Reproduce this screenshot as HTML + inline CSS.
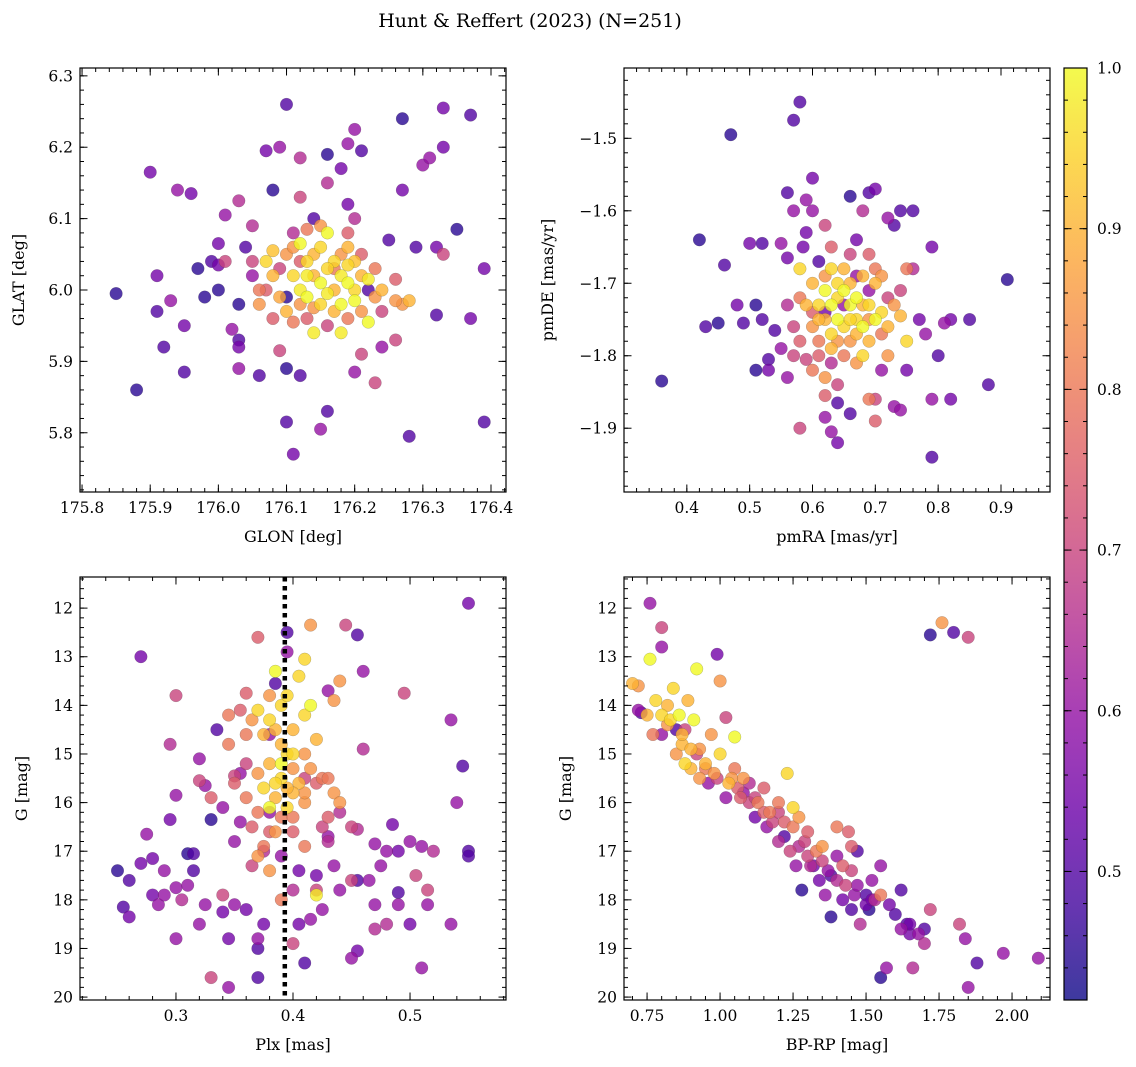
<!DOCTYPE html>
<html><head><meta charset="utf-8"><style>
html,body{margin:0;padding:0;background:#fff;}
svg{display:block;font-family:"DejaVu Serif","Liberation Serif",serif;}
</style></head><body>
<svg id="fig" width="1136" height="1067" viewBox="0 0 1136 1067" xmlns="http://www.w3.org/2000/svg">
<text x="530" y="27" text-anchor="middle" font-size="19">Hunt &amp; Reffert (2023) (N=251)</text>
</svg>
<script>
// ---- Panel 1: GLON / GLAT ----
const glon=[175.85,175.88,175.90,175.91,175.91,175.92,175.93,175.94,175.95,175.95,175.96,175.97,175.98,175.99,176.0,176.0,176.0,176.01,176.01,176.02,176.03,176.03,176.03,176.03,176.03,176.04,176.05,176.05,176.06,176.06,176.07,176.08,176.08,176.09,176.09,176.10,176.10,176.10,176.10,176.11,176.12,176.12,176.12,176.14,176.15,176.16,176.16,176.16,176.18,176.19,176.19,176.20,176.21,176.2,176.21,176.22,176.23,176.24,176.25,176.26,176.27,176.27,176.28,176.29,176.30,176.31,176.32,176.32,176.33,176.33,176.33,176.35,176.37,176.37,176.39,176.39,176.27,176.26,176.28,176.26,
176.08,176.07,176.08,176.1,176.11,176.12,176.13,176.12,176.13,176.14,176.15,176.15,176.16,176.16,176.17,176.17,176.18,176.18,176.19,176.19,176.2,176.2,176.21,176.21,176.22,176.22,176.23,176.24,176.14,176.18,176.1,176.09,176.06,176.11,176.13,176.16,176.15,176.13,176.19,176.2,176.17,176.12,176.05,176.14,176.2,176.23,
176.09,176.11,176.14,176.16,176.18,176.17,176.15,176.12,176.19,176.21,176.24,176.07,176.13,176.19,176.11];
const glat=[5.995,5.86,6.165,6.02,5.97,5.92,5.985,6.14,5.95,5.885,6.135,6.03,5.99,6.04,6.0,6.065,6.035,6.105,6.04,5.945,5.93,5.92,5.98,5.89,6.125,6.06,6.04,6.09,5.88,6.0,6.195,6.14,5.96,6.2,5.915,5.99,5.89,5.815,6.26,5.77,5.88,6.185,6.13,6.1,5.805,6.19,6.15,5.83,6.17,6.12,6.205,6.225,6.195,5.885,5.91,6.0,5.87,5.92,6.07,5.93,6.24,6.14,5.795,6.06,6.175,6.185,6.06,5.965,6.2,6.255,6.05,6.085,6.245,5.96,6.03,5.815,5.98,5.985,5.985,6.015,
6.055,6.04,6.02,6.05,6.02,6.0,5.99,6.065,6.04,6.02,6.06,6.01,5.995,6.08,6.04,6.0,5.98,6.02,6.01,6.06,6.0,5.985,6.02,5.97,6.015,5.955,5.99,6.0,5.94,5.94,5.97,5.99,5.98,5.955,5.96,5.95,6.09,6.085,6.08,6.1,6.03,6.04,6.02,5.975,6.04,6.03,
6.03,6.06,6.05,6.03,6.05,5.97,5.98,5.98,5.96,6.05,5.97,6.0,6.02,6.035,6.08];
const prob1=[0.45,0.45,0.55,0.55,0.5,0.5,0.6,0.6,0.55,0.5,0.55,0.45,0.45,0.5,0.45,0.55,0.55,0.6,0.7,0.6,0.5,0.55,0.45,0.6,0.65,0.5,0.7,0.65,0.5,0.8,0.55,0.45,0.75,0.6,0.7,0.45,0.45,0.5,0.5,0.55,0.5,0.65,0.7,0.5,0.6,0.45,0.65,0.5,0.55,0.55,0.6,0.6,0.5,0.6,0.7,0.5,0.7,0.6,0.5,0.7,0.45,0.55,0.5,0.5,0.6,0.6,0.55,0.5,0.55,0.55,0.7,0.45,0.5,0.55,0.55,0.5,0.85,0.85,0.9,0.75,
0.92,0.95,0.9,0.85,0.95,0.98,1.0,1.0,0.95,0.9,0.95,1.0,0.98,1.0,0.95,0.9,1.0,0.98,1.0,0.9,0.95,1.0,0.9,0.85,0.98,1.0,0.85,0.9,0.98,0.98,0.9,0.88,0.85,0.8,0.75,0.7,0.85,0.8,0.75,0.65,0.8,0.75,0.6,0.85,0.92,0.8,
0.7,0.85,0.9,0.95,0.85,0.9,0.95,0.85,0.8,0.75,0.7,0.75,0.98,0.95,0.65];
// ---- Panel 2: pmRA / pmDE ----
const pmra=[0.36,0.42,0.43,0.46,0.45,0.47,0.48,0.49,0.50,0.51,0.51,0.52,0.52,0.53,0.53,0.54,0.55,0.55,0.56,0.56,0.56,0.57,0.57,0.58,0.58,0.585,0.59,0.6,0.59,0.6,0.61,0.62,0.62,0.62,0.63,0.64,0.64,0.66,0.66,0.67,0.68,0.69,0.7,0.7,0.7,0.69,0.71,0.72,0.73,0.74,0.74,0.73,0.75,0.76,0.77,0.78,0.79,0.79,0.79,0.8,0.81,0.82,0.82,0.85,0.88,0.91,0.75,0.76,0.72,0.74,0.75,
0.58,0.59,0.6,0.6,0.61,0.61,0.62,0.62,0.63,0.63,0.63,0.64,0.64,0.64,0.65,0.65,0.66,0.66,0.66,0.67,0.67,0.68,0.68,0.68,0.69,0.69,0.7,0.7,0.71,0.71,0.72,0.72,0.6,0.62,0.65,0.67,0.58,0.57,0.56,0.58,0.63,0.66,0.69,0.7,0.64,0.59,0.61,0.73,0.67,0.65,0.62,0.69,
0.61,0.63,0.65,0.67,0.69,0.66,0.64,0.62,0.68,0.71,0.6,0.57,0.74,0.63];
const pmde=[-1.835,-1.64,-1.76,-1.675,-1.755,-1.495,-1.73,-1.755,-1.645,-1.82,-1.73,-1.75,-1.645,-1.805,-1.82,-1.765,-1.645,-1.79,-1.575,-1.665,-1.83,-1.6,-1.475,-1.45,-1.9,-1.65,-1.585,-1.555,-1.63,-1.6,-1.67,-1.62,-1.885,-1.855,-1.905,-1.92,-1.865,-1.88,-1.58,-1.64,-1.6,-1.86,-1.89,-1.57,-1.86,-1.575,-1.82,-1.61,-1.87,-1.875,-1.6,-1.62,-1.82,-1.6,-1.75,-1.77,-1.65,-1.86,-1.94,-1.8,-1.755,-1.86,-1.75,-1.75,-1.84,-1.695,-1.68,-1.68,-1.72,-1.745,-1.78,
-1.68,-1.73,-1.7,-1.76,-1.73,-1.78,-1.71,-1.75,-1.68,-1.73,-1.79,-1.7,-1.75,-1.72,-1.76,-1.68,-1.73,-1.7,-1.78,-1.75,-1.72,-1.69,-1.8,-1.76,-1.73,-1.78,-1.75,-1.7,-1.74,-1.69,-1.76,-1.8,-1.82,-1.83,-1.8,-1.81,-1.78,-1.76,-1.73,-1.72,-1.65,-1.66,-1.66,-1.68,-1.84,-1.805,-1.8,-1.73,-1.69,-1.73,-1.74,-1.71,
-1.75,-1.77,-1.71,-1.77,-1.75,-1.75,-1.78,-1.69,-1.73,-1.77,-1.74,-1.8,-1.71,-1.81];
const prob2=[0.45,0.45,0.5,0.5,0.45,0.45,0.55,0.5,0.55,0.45,0.45,0.5,0.5,0.5,0.55,0.5,0.6,0.6,0.5,0.55,0.6,0.6,0.5,0.5,0.7,0.55,0.6,0.55,0.55,0.6,0.5,0.7,0.6,0.75,0.6,0.55,0.5,0.5,0.45,0.55,0.65,0.8,0.75,0.55,0.7,0.5,0.6,0.6,0.6,0.6,0.5,0.5,0.55,0.5,0.55,0.6,0.55,0.6,0.5,0.5,0.6,0.55,0.55,0.5,0.5,0.45,0.8,0.65,0.7,0.9,0.95,
0.95,0.9,0.9,0.85,0.95,0.8,1.0,0.9,0.95,1.0,0.9,0.95,1.0,0.95,0.95,0.9,1.0,0.9,0.85,0.95,1.0,0.9,0.95,1.0,0.95,0.9,1.0,0.9,0.95,0.85,0.9,0.85,0.8,0.85,0.8,0.85,0.75,0.7,0.65,0.8,0.75,0.7,0.75,0.8,0.7,0.7,0.75,0.85,0.6,0.6,0.55,0.6,
0.9,0.95,1.0,0.9,0.85,0.95,0.85,0.85,0.9,0.8,0.75,0.7,0.7,0.65];
// ---- Panel 3: Plx / G ----
const plx=[0.25,0.255,0.26,0.26,0.27,0.27,0.275,0.28,0.28,0.285,0.29,0.29,0.295,0.295,0.3,0.3,0.3,0.3,0.305,0.31,0.31,0.315,0.315,0.32,0.32,0.32,0.325,0.325,0.33,0.33,0.33,0.335,0.34,0.34,0.34,0.345,0.345,0.35,0.35,0.355,0.355,0.36,0.36,0.365,0.365,0.37,0.37,0.37,0.37,0.375,0.375,0.38,0.38,0.385,0.39,0.39,0.395,0.395,0.4,0.4,0.405,0.405,0.41,0.41,0.415,0.415,0.42,0.42,0.425,0.43,0.43,0.435,0.44,0.44,0.445,0.45,0.45,0.455,0.455,0.455,0.46,0.46,0.465,0.47,0.47,0.475,0.48,0.48,0.485,0.49,0.49,0.49,0.495,0.5,0.5,0.505,0.51,0.51,0.515,0.515,0.52,0.535,0.535,0.54,0.545,0.55,0.55,0.55,0.47,0.455,
0.36,0.365,0.37,0.375,0.38,0.38,0.385,0.385,0.39,0.39,0.395,0.395,0.4,0.4,0.405,0.41,0.41,0.415,0.42,0.425,0.37,0.375,0.38,0.385,0.39,0.395,0.4,0.39,0.38,0.375,0.37,0.36,0.35,0.345,0.345,0.355,0.38,0.41,0.42,0.43,0.435,0.44,0.43,0.425,0.435,0.42,0.44,0.405,0.38,0.41,0.45,0.4,0.41,
0.385,0.39,0.4,0.395,0.41,0.37,0.385,0.4,0.36,0.415,0.43,0.35];
const gmag3=[17.4,18.15,17.6,18.35,13.0,17.25,16.65,17.9,17.15,18.1,17.9,17.4,14.8,16.35,18.8,13.8,15.85,17.75,18.0,17.05,17.7,17.05,17.4,15.55,15.1,18.5,18.1,15.65,19.6,15.9,16.35,14.5,16.1,17.9,18.25,18.8,19.8,18.1,15.45,16.4,15.4,13.75,18.2,16.5,17.3,18.8,19.0,19.6,12.6,18.5,17.0,16.2,14.6,13.55,18.0,17.1,12.5,12.9,17.8,18.9,18.5,17.4,13.05,19.3,12.35,18.4,17.5,17.8,18.2,16.7,13.7,17.3,17.8,16.2,12.35,19.2,17.6,19.05,12.55,17.6,13.3,14.9,17.6,18.1,18.6,17.3,17.0,18.5,16.45,18.1,17.85,17.0,13.75,16.8,18.5,17.5,16.9,19.4,18.1,17.8,17.0,14.3,18.5,16.0,15.25,11.9,17.0,17.1,16.85,16.55,
14.6,14.3,14.1,14.6,13.8,14.3,13.3,14.5,14.0,14.8,15.0,13.8,14.5,15.3,15.6,14.2,15.0,14.0,14.7,15.5,15.4,15.7,15.2,15.9,15.5,16.1,15.8,16.3,16.6,16.9,17.1,15.9,15.6,14.8,14.2,14.1,16.1,16.0,15.6,15.5,15.8,16.0,16.3,16.5,13.9,17.9,13.5,13.4,17.4,16.9,16.5,16.6,15.5,
15.6,15.2,15.0,15.7,15.8,16.2,16.6,16.3,15.2,15.3,16.8,16.8];
const prob3=[0.45,0.5,0.5,0.55,0.55,0.55,0.6,0.55,0.55,0.6,0.6,0.6,0.65,0.55,0.6,0.7,0.6,0.6,0.65,0.45,0.6,0.5,0.5,0.7,0.6,0.6,0.6,0.6,0.7,0.75,0.45,0.5,0.6,0.7,0.55,0.55,0.6,0.6,0.7,0.6,0.6,0.75,0.55,0.75,0.7,0.6,0.5,0.5,0.75,0.55,0.65,0.6,0.6,0.5,0.8,0.6,0.5,0.6,0.65,0.7,0.55,0.55,0.95,0.5,0.85,0.6,0.55,0.7,0.6,0.6,0.6,0.6,0.6,0.65,0.7,0.6,0.7,0.55,0.5,0.5,0.6,0.65,0.6,0.6,0.65,0.6,0.6,0.65,0.55,0.6,0.5,0.55,0.7,0.6,0.55,0.7,0.6,0.6,0.6,0.7,0.65,0.6,0.6,0.6,0.5,0.55,0.5,0.5,0.6,0.65,
0.8,0.85,0.95,0.9,0.85,0.95,1.0,0.9,0.95,0.9,0.95,0.95,0.9,0.85,0.9,0.95,0.85,1.0,0.9,0.8,0.85,0.95,0.9,0.9,0.95,0.95,0.9,0.8,0.75,0.8,0.85,0.8,0.75,0.8,0.8,0.75,1.0,0.85,0.75,0.8,0.85,0.85,0.75,0.7,0.85,0.98,0.85,0.95,0.85,0.8,0.7,0.75,0.7,
0.95,1.0,0.95,0.9,0.85,0.8,0.85,0.8,0.7,0.85,0.65,0.6];
const plxLine=[0.393];
// ---- Panel 4: BP-RP / G ----
const bprp=[0.7,0.72,0.72,0.75,0.76,0.77,0.78,0.8,0.8,0.82,0.82,0.84,0.85,0.85,0.86,0.87,0.88,0.88,0.89,0.9,0.9,0.91,0.92,0.92,0.93,0.95,0.96,0.97,0.99,0.99,1.0,1.0,1.02,1.02,1.04,1.05,1.06,1.08,1.1,1.1,1.12,1.13,1.15,1.16,1.18,1.2,1.2,1.22,1.23,1.24,1.25,1.26,1.27,1.28,1.3,1.3,1.32,1.33,1.34,1.35,1.36,1.38,1.38,1.4,1.4,1.42,1.43,1.44,1.45,1.46,1.47,1.48,1.5,1.5,1.51,1.52,1.53,1.55,1.55,1.57,1.6,1.62,1.64,1.65,1.66,1.68,1.7,1.72,1.82,1.84,1.85,1.88,1.97,2.09,1.72,1.76,1.8,1.85,0.76,0.8,0.8,0.73,1.08,1.15,1.2,1.27,1.35,1.4,1.45,1.25,1.05,0.95,1.62,1.58,1.45,1.55,1.65,1.7,
0.98,1.03,1.07,1.12,1.17,1.22,1.29,1.31,1.37,1.42,1.47,1.52,0.87,0.83,0.93];
const gmag4=[13.55,13.6,14.1,14.2,13.05,14.6,13.9,14.2,14.6,14.0,14.4,13.65,14.5,15.0,14.2,14.8,14.5,15.2,13.9,14.9,15.3,14.3,13.25,15.0,15.5,15.2,15.6,14.6,12.95,15.5,13.5,15.0,14.25,15.9,15.5,14.65,15.7,15.8,16.0,15.6,16.3,16.0,16.2,16.5,16.4,16.8,16.2,16.7,15.4,17.0,16.5,17.3,16.9,17.8,17.1,16.6,17.3,17.0,17.6,17.2,17.9,17.5,18.35,17.6,17.1,18.0,17.7,16.6,18.2,17.9,17.0,18.5,18.1,17.9,18.2,17.6,18.0,17.9,19.6,19.4,18.3,18.6,18.5,18.7,19.4,18.7,18.9,18.2,18.5,18.8,19.8,19.3,19.1,19.2,12.55,12.3,12.5,12.6,11.9,12.4,12.8,14.15,15.5,15.7,16.0,16.3,16.9,16.5,16.9,16.1,15.3,15.3,17.8,18.1,17.4,17.3,18.5,18.6,
15.4,15.6,15.9,15.9,16.2,16.4,16.8,17.3,17.4,17.3,17.7,18.0,14.6,14.3,14.9];
const prob4=[0.9,0.85,0.6,0.9,1.0,0.8,0.95,0.95,0.6,0.9,0.85,0.95,0.5,0.85,1.0,0.9,0.7,0.95,0.9,0.9,0.9,1.0,1.0,0.7,0.85,0.9,0.6,0.85,0.55,0.7,0.85,0.95,0.7,0.6,0.85,1.0,0.75,0.6,0.7,0.65,0.55,0.8,0.75,0.6,0.7,0.65,0.7,0.5,0.95,0.7,0.8,0.6,0.65,0.45,0.7,0.75,0.55,0.8,0.55,0.7,0.6,0.5,0.45,0.65,0.6,0.55,0.7,0.75,0.5,0.6,0.5,0.65,0.55,0.5,0.45,0.6,0.65,0.8,0.45,0.6,0.5,0.6,0.5,0.55,0.65,0.6,0.65,0.7,0.7,0.6,0.6,0.5,0.6,0.6,0.45,0.85,0.5,0.7,0.6,0.7,0.6,0.5,0.85,0.75,0.8,0.85,0.85,0.8,0.75,0.95,0.8,0.8,0.5,0.55,0.7,0.6,0.55,0.5,
0.85,0.9,0.75,0.7,0.8,0.75,0.7,0.65,0.6,0.75,0.6,0.55,0.9,0.95,0.85];
// ---- Tick labels ----
const ticks1x=[175.8,175.9,176.0,176.1,176.2,176.3,176.4];
const ticks1y=[5.8,5.9,6.0,6.1,6.2,6.3];
const ticks2x=[0.4,0.5,0.6,0.7,0.8,0.9];
const ticks2y=[-1.9,-1.8,-1.7,-1.6,-1.5];
const ticks3x=[0.3,0.4,0.5];
const ticksG=[12,13,14,15,16,17,18,19,20];
const ticks4x=[0.75,1.0,1.25,1.5,1.75,2.0];
const ticksCb=[0.5,0.6,0.7,0.8,0.9,1.0];
const VMIN=0.42, VMAX=1.0;

const NS="http://www.w3.org/2000/svg";
const svg=document.getElementById('fig');
function mk(tag,attrs,parent){const e=document.createElementNS(NS,tag);for(const k in attrs)e.setAttribute(k,attrs[k]);(parent||svg).appendChild(e);return e;}
const stops=[[0,[13,8,135]],[0.1,[65,4,157]],[0.2,[106,0,168]],[0.3,[143,13,164]],[0.4,[177,42,144]],[0.5,[204,71,120]],[0.6,[225,100,98]],[0.7,[242,132,75]],[0.8,[252,166,54]],[0.9,[252,206,37]],[1,[240,249,33]]];
function plasma(t){t=Math.max(0,Math.min(1,t));for(let i=1;i<stops.length;i++){if(t<=stops[i][0]){const a=stops[i-1],b=stops[i];const f=(t-a[0])/(b[0]-a[0]);const c=a[1].map((v,j)=>Math.round(v+(b[1][j]-v)*f));return `rgb(${c[0]},${c[1]},${c[2]})`;}}return 'rgb(240,249,33)';}
function fmt(v,d){return (v<0?'\u2212':'')+Math.abs(v).toFixed(d);}
function minorTicks(a,b,step){const r=[];const s=Math.ceil(a/step-1e-6);for(let k=s;k*step<=b+1e-9;k++)r.push(k*step);return r;}

function panel(cfg){
  const g=mk('g',{});
  
  
  const {L,T,R,B,xmin,xmax,ymin,ymax,inv}=cfg;
  const sx=v=>L+(v-xmin)/(xmax-xmin)*(R-L);
  const sy=inv? v=>T+(v-ymin)/(ymax-ymin)*(B-T) : v=>B-(v-ymin)/(ymax-ymin)*(B-T);
  const cp='clip-'+cfg.name;
  const defs=mk('defs',{},g);const c=mk('clipPath',{id:cp},defs);mk('rect',{x:L,y:T,width:R-L,height:B-T},c);
  const pts=mk('g',{'clip-path':`url(#${cp})`},g);
  
  
  const idx=cfg.xs.map((_,i)=>i).sort((a,b)=>cfg.ps[a]-cfg.ps[b]);
  idx.forEach(i=>{
    const ci=mk('circle',{cx:sx(cfg.xs[i]).toFixed(1),cy:sy(cfg.ys[i]).toFixed(1),r:6.3,fill:plasma((cfg.ps[i]-VMIN)/(VMAX-VMIN)),'fill-opacity':0.8,stroke:'rgba(60,60,60,0.35)','stroke-width':0.5},pts);
    
    
  });
  if(cfg.vline){cfg.vline.forEach(v=>{const ln=mk('line',{x1:sx(v),x2:sx(v),y1:T,y2:B,stroke:'#000','stroke-width':4.5,'stroke-dasharray':'4.5,4.5'},g);});}
  const fr=mk('rect',{x:L,y:T,width:R-L,height:B-T,fill:'none',stroke:'#000','stroke-width':1.2},g);
  
  const tk=mk('g',{stroke:'#000','stroke-width':1},g);
  minorTicks(xmin,xmax,cfg.xminor).forEach(v=>{const x=sx(v);mk('line',{x1:x,x2:x,y1:B,y2:B-4},tk);mk('line',{x1:x,x2:x,y1:T,y2:T+4},tk);});
  minorTicks(Math.min(ymin,ymax),Math.max(ymin,ymax),cfg.yminor).forEach(v=>{const y=sy(v);mk('line',{x1:L,x2:L+4,y1:y,y2:y},tk);mk('line',{x1:R,x2:R-4,y1:y,y2:y},tk);});
  const xl=mk('g',{'font-size':15.5,'text-anchor':'middle'},g);
  
  cfg.xt.forEach(v=>{const x=sx(v);mk('line',{x1:x,x2:x,y1:B,y2:B-7.5},tk);mk('line',{x1:x,x2:x,y1:T,y2:T+7.5},tk);const t=mk('text',{x:x,y:B+21},xl);t.textContent=fmt(v,cfg.xd);});
  const yl=mk('g',{'font-size':15.5,'text-anchor':'end'},g);
  
  cfg.yt.forEach(v=>{const y=sy(v);mk('line',{x1:L,x2:L+7.5,y1:y,y2:y},tk);mk('line',{x1:R,x2:R-7.5,y1:y,y2:y},tk);const t=mk('text',{x:L-7,y:y+5.5},yl);t.textContent=fmt(v,cfg.yd);});
  const xt=mk('text',{x:(L+R)/2,y:B+50,'font-size':16,'text-anchor':'middle'},g);xt.textContent=cfg.xlabel;
  
  const yx=cfg.ylx,yy=(T+B)/2;
  const yt=mk('text',{x:yx,y:yy,'font-size':16,'text-anchor':'middle',transform:`rotate(-90 ${yx} ${yy})`},g);yt.textContent=cfg.ylabel;
  
}
panel({name:'sky-position-panel',L:80,T:68,R:506,B:492,xmin:175.797,xmax:176.422,ymin:5.717,ymax:6.311,xs:glon,ys:glat,ps:prob1,xt:ticks1x,yt:ticks1y,xd:1,yd:1,xminor:0.02,yminor:0.02,xlabel:'GLON [deg]',ylabel:'GLAT [deg]',ylx:24});
panel({name:'proper-motion-panel',L:624,T:68,R:1050,B:492,xmin:0.3,xmax:0.978,ymin:-1.988,ymax:-1.403,xs:pmra,ys:pmde,ps:prob2,xt:ticks2x,yt:ticks2y,xd:1,yd:1,xminor:0.02,yminor:0.02,xlabel:'pmRA [mas/yr]',ylabel:'pmDE [mas/yr]',ylx:553});
panel({name:'parallax-magnitude-panel',L:80,T:577,R:506,B:1000,xmin:0.218,xmax:0.582,ymin:11.36,ymax:20.06,inv:true,xs:plx,ys:gmag3,ps:prob3,xt:ticks3x,yt:ticksG,xd:1,yd:0,xminor:0.02,yminor:0.2,xlabel:'Plx [mas]',ylabel:'G [mag]',ylx:27,vline:plxLine});
panel({name:'color-magnitude-panel',L:624,T:577,R:1050,B:1000,xmin:0.671,xmax:2.13,ymin:11.36,ymax:20.06,inv:true,xs:bprp,ys:gmag4,ps:prob4,xt:ticks4x,yt:ticksG,xd:2,yd:0,xminor:0.05,yminor:0.2,xlabel:'BP-RP [mag]',ylabel:'G [mag]',ylx:571});
// colorbar
(function(){
  const L=1064,R=1087,T=68,B=1000;
  const g=mk('g',{});
  
  
  const d=mk('defs',{},g);const lg=mk('linearGradient',{id:'cbg',x1:0,y1:1,x2:0,y2:0},d);
  for(let i=0;i<=20;i++){const t=i/20;mk('stop',{offset:t,'stop-color':plasma(t)},lg);}
  mk('rect',{x:L,y:T,width:R-L,height:B-T,fill:'url(#cbg)','fill-opacity':0.8},g);
  mk('rect',{x:L,y:T,width:R-L,height:B-T,fill:'none',stroke:'#000','stroke-width':1.2},g);
  const sy=v=>B-(v-VMIN)/(VMAX-VMIN)*(B-T);
  const tk=mk('g',{stroke:'#000','stroke-width':1},g);
  minorTicks(VMIN,VMAX,0.02).forEach(v=>{const y=sy(v);mk('line',{x1:L,x2:L+4,y1:y,y2:y},tk);mk('line',{x1:R,x2:R-4,y1:y,y2:y},tk);});
  ticksCb.forEach(v=>{const y=sy(v);mk('line',{x1:L,x2:L+7.5,y1:y,y2:y},tk);mk('line',{x1:R,x2:R-7.5,y1:y,y2:y},tk);const t=mk('text',{x:R+10,y:y+5.5,'font-size':15.5},g);t.textContent=v.toFixed(1);});
})();
</script>
</body></html>
